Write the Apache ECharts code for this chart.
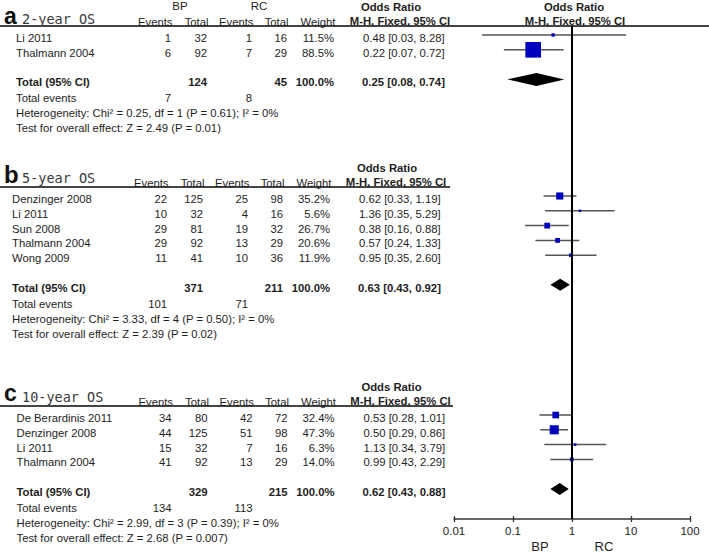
<!DOCTYPE html>
<html><head><meta charset="utf-8">
<script src="https://cdn.jsdelivr.net/npm/echarts@6.0.0/dist/echarts.min.js"></script>
<style>html,body{margin:0;padding:0;background:#fff}#c{width:709px;height:555px}</style>
</head><body><div id="c"></div>
<script>
// ---------------- DATA ----------------
// Panel a: 2-year OS
const studiesA = ['Li 2011', 'Thalmann 2004'];
const bpEventsA = [1, 6];
const bpTotalA = [32, 92];
const rcEventsA = [1, 7];
const rcTotalA = [16, 29];
const weightA = [11.5, 88.5];
const orA = [0.48, 0.22];
const loA = [0.03, 0.07];
const hiA = [8.28, 0.72];
const totalA = { bpTotal: 124, rcTotal: 45, bpEvents: 7, rcEvents: 8, or: 0.25, lo: 0.08, hi: 0.74 };
const hetA = { chi: '0.25', df: 1, p: '0.61', i2: 0, z: '2.49', pz: '0.01' };

// Panel b: 5-year OS
const studiesB = ['Denzinger 2008', 'Li 2011', 'Sun 2008', 'Thalmann 2004', 'Wong 2009'];
const bpEventsB = [22, 10, 29, 29, 11];
const bpTotalB = [125, 32, 81, 92, 41];
const rcEventsB = [25, 4, 19, 13, 10];
const rcTotalB = [98, 16, 32, 29, 36];
const weightB = [35.2, 5.6, 26.7, 20.6, 11.9];
const orB = [0.62, 1.36, 0.38, 0.57, 0.95];
const loB = [0.33, 0.35, 0.16, 0.24, 0.35];
const hiB = [1.19, 5.29, 0.88, 1.33, 2.60];
const totalB = { bpTotal: 371, rcTotal: 211, bpEvents: 101, rcEvents: 71, or: 0.63, lo: 0.43, hi: 0.92 };
const hetB = { chi: '3.33', df: 4, p: '0.50', i2: 0, z: '2.39', pz: '0.02' };

// Panel c: 10-year OS
const studiesC = ['De Berardinis 2011', 'Denzinger 2008', 'Li 2011', 'Thalmann 2004'];
const bpEventsC = [34, 44, 15, 41];
const bpTotalC = [80, 125, 32, 92];
const rcEventsC = [42, 51, 7, 13];
const rcTotalC = [72, 98, 16, 29];
const weightC = [32.4, 47.3, 6.3, 14.0];
const orC = [0.53, 0.50, 1.13, 0.99];
const loC = [0.28, 0.29, 0.34, 0.43];
const hiC = [1.01, 0.86, 3.79, 2.29];
const totalC = { bpTotal: 329, rcTotal: 215, bpEvents: 134, rcEvents: 113, or: 0.62, lo: 0.43, hi: 0.88 };
const hetC = { chi: '2.99', df: 3, p: '0.39', i2: 0, z: '2.68', pz: '0.007' };

const tickValues = [0.01, 0.1, 1, 10, 100];
const tickLabels = ['0.01', '0.1', '1', '10', '100'];
const groupNames = ['BP', 'RC'];
const colHeaders = ['Events', 'Total', 'Events', 'Total', 'Weight'];
const orHeader = ['Odds Ratio', 'M-H, Fixed, 95% CI'];

// ---------------- LAYOUT ----------------
const panels = [
  { letter: 'a', title: '2-year OS', studies: studiesA, bpE: bpEventsA, bpT: bpTotalA, rcE: rcEventsA, rcT: rcTotalA, w: weightA, or: orA, lo: loA, hi: hiA, tot: totalA, het: hetA,
    lineY: 26, row0: 38, dx: 0, lineX1: 709, letterSize: 23, letterY: 15.5, titleY: 18.5, showGroups: true, showRightHeader: true, diamondH: 6.5 },
  { letter: 'b', title: '5-year OS', studies: studiesB, bpE: bpEventsB, bpT: bpTotalB, rcE: rcEventsB, rcT: rcTotalB, w: weightB, or: orB, lo: loB, hi: hiB, tot: totalB, het: hetB,
    lineY: 187, row0: 199, dx: -4, lineX1: 450, letterSize: 24, letterY: 174.5, titleY: 177.5, showGroups: false, showRightHeader: false, diamondH: 6 },
  { letter: 'c', title: '10-year OS', studies: studiesC, bpE: bpEventsC, bpT: bpTotalC, rcE: rcEventsC, rcT: rcTotalC, w: weightC, or: orC, lo: loC, hi: hiC, tot: totalC, het: hetC,
    lineY: 406, row0: 418, dx: 0.5, lineX1: 453, letterSize: 23, letterY: 392.5, titleY: 396.5, showGroups: false, showRightHeader: false, diamondH: 6 }
];
const rowH = 14.8;
const markShift = -3;
const FS = 11.3;
const FONT = '"Liberation Sans", Arial, Helvetica, sans-serif';
const NARROW = '"Liberation Sans Narrow", "Arial Narrow", "Liberation Sans", Arial, sans-serif';
const TXT = '#1e1e1e';
const col = { name: 16, bpE: 171, bpT: 207, rcE: 252, rcT: 287, w: 334, orL: 363 };

function fmt2(v) { return v.toFixed(2); }
function orStr(o, l, h) { return fmt2(o) + ' [' + fmt2(l) + ', ' + fmt2(h) + ']'; }

const graphics = [];
function T(x, y, text, o) {
  o = o || {};
  graphics.push({
    type: 'text', x: x, y: y, silent: true,
    style: {
      text: String(text), fill: o.fill || TXT,
      font: (o.bold ? 'bold ' : '') + (o.size || FS) + 'px ' + (o.family || FONT),
      align: o.align || 'left', verticalAlign: 'middle'
    }
  });
}
function L(x1, y1, x2, y2, w, c) {
  graphics.push({ type: 'line', silent: true, shape: { x1: x1, y1: y1, x2: x2, y2: y2 }, style: { stroke: c || '#444', lineWidth: w || 2 } });
}

const whiskerData = [], boxData = [], diamondData = [];

panels.forEach(function (p) {
  const dx = p.dx;
  T(4, p.letterY, p.letter, { bold: true, size: p.letterSize, fill: '#111' });
  T(22, p.titleY, p.title, { size: 13.5, family: '"DejaVu Sans Mono", monospace', fill: '#3a3a3a' });
  L(0, p.lineY, p.lineX1, p.lineY, 2, '#444');
  if (p.showGroups) {
    T(180 + dx, 6, groupNames[0], { family: NARROW, size: 11.5, align: 'center' });
    T(259 + dx, 6, groupNames[1], { family: NARROW, size: 11.5, align: 'center' });
  }
  const hy = p.lineY - 4.5;
  const hx = [col.bpE, col.bpT, col.rcE, col.rcT, col.w];
  colHeaders.forEach(function (h, i) { T(hx[i] + 1.5 + dx, hy, h, { align: 'right' }); });
  T(391 + dx, p.lineY - 19, orHeader[0], { bold: true, align: 'center' });
  T(400 + dx, p.lineY - 5, orHeader[1], { bold: true, align: 'center' });
  if (p.showRightHeader) {
    T(574, p.lineY - 19, orHeader[0], { bold: true, align: 'center' });
    T(575, p.lineY - 5, orHeader[1], { bold: true, align: 'center' });
  }
  p.studies.forEach(function (s, i) {
    const y = p.row0 + i * rowH;
    T(col.name + dx, y, s);
    T(col.bpE + dx, y, p.bpE[i], { align: 'right' });
    T(col.bpT + dx, y, p.bpT[i], { align: 'right' });
    T(col.rcE + dx, y, p.rcE[i], { align: 'right' });
    T(col.rcT + dx, y, p.rcT[i], { align: 'right' });
    T(col.w + dx, y, p.w[i].toFixed(1) + '%', { align: 'right' });
    T(col.orL + dx, y, orStr(p.or[i], p.lo[i], p.hi[i]));
    whiskerData.push([p.lo[i], p.hi[i], y + markShift]);
    boxData.push([p.or[i], y + markShift, p.w[i]]);
  });
  const ty = p.row0 + (p.studies.length + 1) * rowH;
  T(col.name + dx, ty, 'Total (95% CI)', { bold: true });
  T(col.bpT + dx, ty, p.tot.bpTotal, { bold: true, align: 'right' });
  T(col.rcT + dx, ty, p.tot.rcTotal, { bold: true, align: 'right' });
  T(col.w + dx, ty, '100.0%', { bold: true, align: 'right' });
  T(col.orL - 1 + dx, ty, orStr(p.tot.or, p.tot.lo, p.tot.hi), { bold: true });
  diamondData.push([p.tot.lo, p.tot.or, p.tot.hi, ty + markShift, p.diamondH]);
  const ey = ty + 16;
  T(col.name + dx, ey, 'Total events');
  T(col.bpE + dx, ey, p.tot.bpEvents, { align: 'right' });
  T(col.rcE + dx, ey, p.tot.rcEvents, { align: 'right' });
  T(col.name + dx, ey + 15, 'Heterogeneity: Chi\u00b2 = ' + p.het.chi + ', df = ' + p.het.df + ' (P = ' + p.het.p + '); I\u00b2 = ' + p.het.i2 + '%');
  T(col.name + dx, ey + 29.8, 'Test for overall effect: Z = ' + p.het.z + ' (P = ' + p.het.pz + ')');
});

T(540, 546, groupNames[0], { family: NARROW, size: 13, align: 'center' });
T(604, 546, groupNames[1], { family: NARROW, size: 13, align: 'center' });

const chart = echarts.init(document.getElementById('c'), null, { renderer: 'svg', width: 709, height: 555 });

const xAxisBase = { type: 'log', logBase: 10, min: 0.01, max: 100, splitNumber: 4, gridIndex: 0, position: 'bottom', splitLine: { show: false }, minorTick: { show: false } };

chart.setOption({
  animation: false,
  backgroundColor: '#fff',
  grid: { left: 454, right: 19, top: 26, bottom: 36, containLabel: false },
  xAxis: [
    Object.assign({}, xAxisBase, {
      axisLine: { show: true, lineStyle: { color: '#333', width: 1.5 } },
      axisTick: { show: true, inside: true, length: 3, lineStyle: { color: '#333', width: 1.3 } },
      axisLabel: { show: true, margin: 6, fontSize: 11.5, fontFamily: NARROW, color: TXT,
        formatter: function (v) { const k = tickValues.findIndex(function (t) { return Math.abs(Math.log10(t) - Math.log10(v)) < 1e-6; }); return k >= 0 ? tickLabels[k] : ''; } }
    }),
    Object.assign({}, xAxisBase, {
      axisLine: { show: false },
      axisTick: { show: true, inside: false, length: 3, lineStyle: { color: '#333', width: 1.3 } },
      axisLabel: { show: false }
    })
  ],
  yAxis: { type: 'value', min: 26, max: 519, inverse: true, show: false },
  graphic: graphics,
  series: [
    {
      type: 'custom', name: 'CI', data: whiskerData, silent: true,
      renderItem: function (params, api) {
        const a = api.coord([api.value(0), api.value(2)]);
        const b = api.coord([api.value(1), api.value(2)]);
        return { type: 'line', shape: { x1: a[0], y1: a[1], x2: b[0], y2: b[1] }, style: { stroke: '#555', lineWidth: 1.5 } };
      },
      markLine: {
        silent: true, symbol: ['none', 'none'], label: { show: false },
        lineStyle: { color: '#000', width: 2, type: 'solid' },
        data: [{ xAxis: 1 }]
      },
      z: 2
    },
    {
      type: 'scatter', name: 'Study OR', data: boxData, symbol: 'rect', silent: true,
      symbolSize: function (v) { return 1.5 + 0.16 * v[2]; },
      itemStyle: { color: '#0000bf', opacity: 1 }, z: 3
    },
    {
      type: 'custom', name: 'Pooled OR', data: diamondData, silent: true,
      renderItem: function (params, api) {
        const y = api.value(3), h = api.value(4);
        const l = api.coord([api.value(0), y]);
        const m = api.coord([api.value(1), y]);
        const r = api.coord([api.value(2), y]);
        return { type: 'polygon', shape: { points: [[l[0], l[1]], [m[0], m[1] - h], [r[0], r[1]], [m[0], m[1] + h]] }, style: { fill: '#000' } };
      },
      z: 4
    }
  ]
});
</script>
</body></html>
